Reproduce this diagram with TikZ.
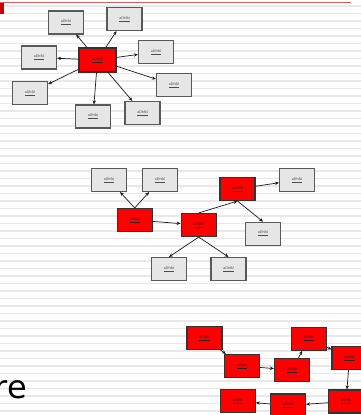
\documentclass[tikz,border=0pt]{standalone}
\usepackage{fontspec}
\setmainfont{Liberation Sans}
\newfontfamily\slidefont{DejaVu Sans}
\usetikzlibrary{arrows.meta}
\definecolor{SlideRed}{RGB}{255,0,0}
\definecolor{BoxGray}{RGB}{230,230,230}
\definecolor{StripeGray}{RGB}{232,232,232}
\definecolor{TopRule}{RGB}{224,90,90}
\definecolor{CornerRed}{RGB}{200,0,0}

\begin{document}
\begin{tikzpicture}[
  x=1pt, y=-1pt,
  font=\fontsize{3.6}{4}\selectfont,
  >={Stealth[length=4pt,width=3.4pt]},
  conn/.style={->, draw=black!90, line width=0.7pt},
  graybox/.style={rectangle, draw=black!65, line width=1.1pt, fill=BoxGray, inner sep=0pt, minimum width=35pt, minimum height=23pt, text=black!70},
  redbox/.style={graybox, fill=SlideRed, draw=black!80, text=black!85},
]
\useasboundingbox (0,0) rectangle (361,415);
\clip (0,0) rectangle (361,415);
% slide background
\fill[white] (0,0) rectangle (361,415);
\foreach \k in {0,...,55}
  \fill[StripeGray] (0,5+7.5*\k) rectangle (361,6.7+7.5*\k);
\fill[TopRule] (0,1.8) rectangle (351,3.2);
\fill[CornerRed] (0,3) rectangle (4,14);

% star
\node[redbox, minimum width=37pt, minimum height=24pt] (hub) at (97.5,60) {\underline{aDhfkl}};
\node[graybox] (s1) at (66,22.5) {\underline{aDhfkl}};
\node[graybox] (s2) at (124.5,19) {\underline{aDhfkl}};
\node[graybox] (s3) at (39,57.5) {\underline{aDhfkl}};
\node[graybox] (s4) at (156,52) {\underline{aDhfkl}};
\node[graybox] (s5) at (30,93) {\underline{aDhfkl}};
\node[graybox] (s6) at (174,85) {\underline{aDhfkl}};
\node[graybox] (s7) at (93,116.5) {\underline{aDhfkl}};
\node[graybox] (s8) at (142.5,113) {\underline{aDhfkl}};
\foreach \s in {s1,s2,s3,s4,s5,s6,s7,s8}
  \draw[conn] (hub) -- (\s);

% tree
\begin{scope}[every node/.append style={minimum width=34pt, minimum height=26pt}]
\node[graybox] (ta) at (109,180) {\underline{aDhfkl}};
\node[graybox] (tb) at (160,180) {\underline{aDhfkl}};
\node[redbox] (tc) at (134.7,220) {\underline{aDhfkl}};
\node[redbox] (td) at (198.7,225) {\underline{aDhfkl}};
\node[redbox] (te) at (237.5,189) {\underline{aDhfkl}};
\node[graybox] (tf) at (297,180) {\underline{aDhfkl}};
\node[graybox] (tg) at (263,233.7) {\underline{aDhfkl}};
\node[graybox] (th) at (169,269) {\underline{aDhfkl}};
\node[graybox] (ti) at (228.5,269) {\underline{aDhfkl}};
\end{scope}
\draw[conn] (tc.north) -- (ta);
\draw[conn] (tc.north) -- (tb);
\draw[conn] (tc) -- (td);
\draw[conn] (td.north) -- (te.south);
\draw[conn] (te) -- (tf);
\draw[conn] (te.south) -- (tg.north);
\draw[conn] (td.south) -- (th.north);
\draw[conn] (td.south) -- (ti.north);

% chain
\begin{scope}[every node/.append style={minimum width=33pt, minimum height=24pt}]
\node[redbox] (c1) at (204.5,338) {\underline{aDhfkl}};
\node[redbox] (c2) at (242,366) {\underline{aDhfkl}};
\node[redbox] (c3) at (292,370) {\underline{aDhfkl}};
\node[redbox] (c4) at (308.7,338.7) {\underline{aDhfkl}};
\node[redbox] (c5) at (349.5,358) {\underline{aDhfkl}};
\node[redbox] (c6) at (346,401.5) {\underline{aDhfkl}};
\node[redbox] (c7) at (288,405.5) {\underline{aDhfkl}};
\node[redbox] (c8) at (237.7,401.2) {\underline{aDhfkl}};
\end{scope}
\draw[conn] (c1) -- (c2);
\draw[conn] (c2) -- (c3);
\draw[conn] (c3) -- (c4);
\draw[conn] (c4) -- (c5);
\draw[conn] (c5) -- (c6);
\draw[conn] (c6) -- (c7);
\draw[conn] (c7) -- (c8);

% slide text
\node[anchor=base east, inner sep=0pt, font=\slidefont\fontsize{32}{38}\selectfont] (word) at (27,398) {re};
\end{tikzpicture}
\end{document}
